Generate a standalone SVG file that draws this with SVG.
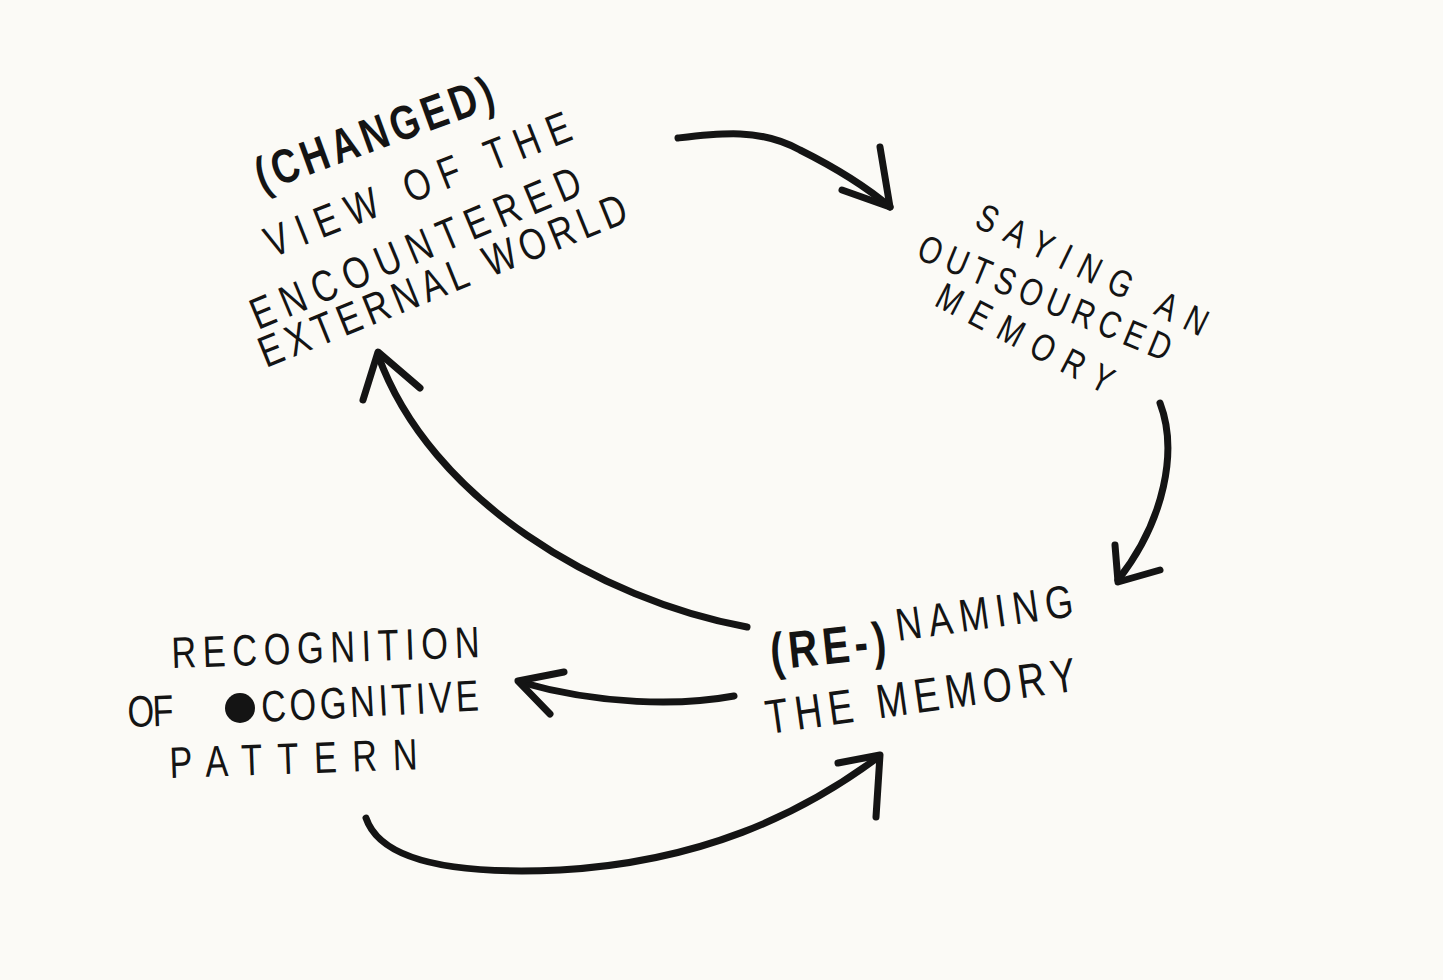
<svg xmlns="http://www.w3.org/2000/svg" width="1443" height="980" viewBox="0 0 1443 980">
  <style>
    .t { font-family: "Liberation Sans", "DejaVu Sans", sans-serif; fill: #141414; }
    .b { font-weight: bold; }
    .c { fill: none; stroke: #141414; stroke-width: 7; stroke-linecap: round; stroke-linejoin: round; }
  </style>
  <rect width="1443" height="980" fill="#fbfaf6"/>

  <g id="node-view">
    <text class="t b" font-size="48" transform="translate(262,192) rotate(-20) scale(0.78,1)" textLength="321" lengthAdjust="spacing">(CHANGED)</text>
    <text class="t" font-size="44" transform="translate(272,258) rotate(-21.5) scale(0.78,1)" textLength="417" lengthAdjust="spacing">VIEW OF THE</text>
    <text class="t" font-size="44" transform="translate(258,330) rotate(-22.7) scale(0.78,1)" textLength="454" lengthAdjust="spacing">ENCOUNTERED</text>
    <text class="t" font-size="44" transform="translate(266,368) rotate(-22) scale(0.78,1)" textLength="504" lengthAdjust="spacing">EXTERNAL WORLD</text>
  </g>

  <g id="node-saving">
    <text class="t" font-size="38" transform="translate(973,226) rotate(26) scale(0.78,1)" textLength="324" lengthAdjust="spacing">SAYING AN</text>
    <text class="t" font-size="38" transform="translate(915,258) rotate(22.5) scale(0.78,1)" textLength="347" lengthAdjust="spacing">OUTSOURCED</text>
    <text class="t" font-size="38" transform="translate(933,305) rotate(27.5) scale(0.78,1)" textLength="249" lengthAdjust="spacing">MEMORY</text>
  </g>

  <g id="node-naming">
    <text class="t b" font-size="52" transform="translate(772,670) rotate(-6) scale(0.78,1)" textLength="149" lengthAdjust="spacing">(RE-)</text>
    <text class="t" font-size="46" transform="translate(898,641) rotate(-8) scale(0.78,1)" textLength="229" lengthAdjust="spacing">NAMING</text>
    <text class="t" font-size="48" transform="translate(768,734) rotate(-8) scale(0.78,1)" textLength="401" lengthAdjust="spacing">THE MEMORY</text>
  </g>

  <g id="node-recognition">
    <text class="t" font-size="44" transform="translate(172,668) rotate(-2) scale(0.78,1)" textLength="395" lengthAdjust="spacing">RECOGNITION</text>
    <text class="t" font-size="44" transform="translate(128,727) rotate(-2) scale(0.78,1)" textLength="59" lengthAdjust="spacing">OF</text>
    <circle cx="240" cy="708" r="15" fill="#141414"/>
    <text class="t" font-size="44" transform="translate(262,722) rotate(-3) scale(0.78,1)" textLength="279" lengthAdjust="spacing">COGNITIVE</text>
    <text class="t" font-size="44" transform="translate(170,778) rotate(-2) scale(0.78,1)" textLength="318" lengthAdjust="spacing">PATTERN</text>
  </g>

  <g id="connectors">
    <path class="c" d="M678,138 C720,133 760,128 800,150 C840,170 870,190 890,207"/>
    <path class="c" d="M880,147 L890,207 L842,190"/>
    <path class="c" d="M1160,403 C1178,450 1165,520 1118,580"/>
    <path class="c" d="M1115,545 L1118,582 L1160,570"/>
    <path class="c" d="M747,627 C600,600 430,500 378,355"/>
    <path class="c" d="M363,400 L378,352 L420,388"/>
    <path class="c" d="M734,696 C680,706 600,705 520,682"/>
    <path class="c" d="M564,672 L518,681 L550,714"/>
    <path class="c" d="M366,818 C380,860 450,875 560,870 C700,862 800,815 877,758"/>
    <path class="c" d="M838,763 L880,755 L876,817"/>
  </g>
</svg>
